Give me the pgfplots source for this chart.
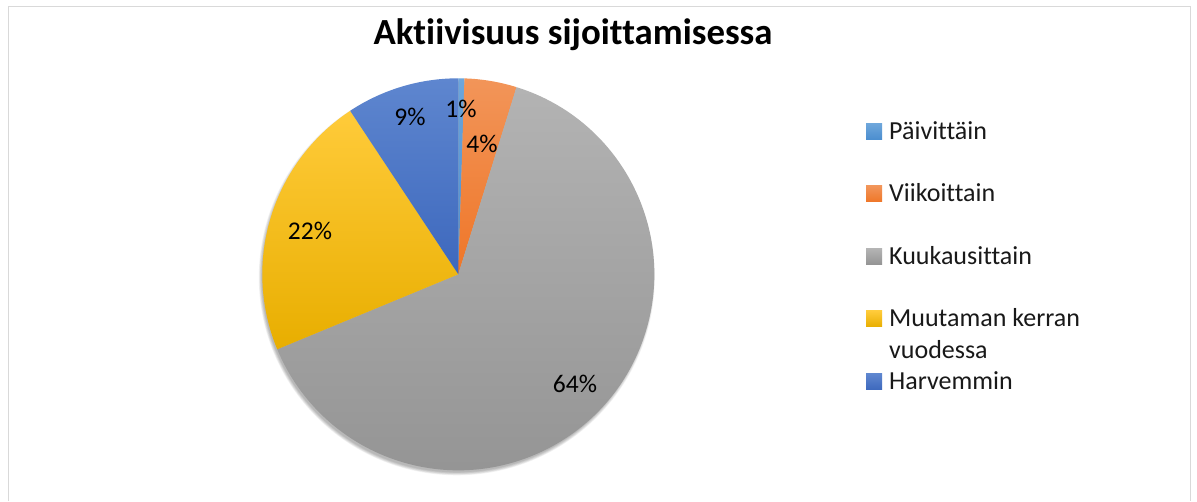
\documentclass[border=0pt]{standalone}
\usepackage{pgfplots}
\pgfplotsset{compat=1.18}
\usepackage{pgfplotstable}
\usepackage{fontspec}
\setmainfont{Carlito}[Ligatures={NoCommon,NoContextual,NoRequired}]

\definecolor{pTop}{HTML}{6DA6DB}\definecolor{pBot}{HTML}{4A8DCF}
\definecolor{vTop}{HTML}{F29559}\definecolor{vBot}{HTML}{EF7628}
\definecolor{kTop}{HTML}{B3B3B3}\definecolor{kBot}{HTML}{939393}
\definecolor{mTop}{HTML}{FFCB3A}\definecolor{mBot}{HTML}{E8AE00}
\definecolor{hTop}{HTML}{5E86CF}\definecolor{hBot}{HTML}{3D68BD}
\definecolor{frame}{HTML}{D9D9D9}

% share of answers in percent, clockwise from 12 o'clock
\pgfplotstableread{
name value
Paivittain 0.5
Viikoittain 4.3
Kuukausittain 63.95
Muutaman 21.95
Harvemmin 9.3
}\piedata

\begin{document}
\begin{tikzpicture}
\pgfmathsetmacro\aA{90}
\pgfplotstablegetelem{0}{value}\of\piedata \pgfmathsetmacro\aB{\aA-3.6*\pgfplotsretval}
\pgfplotstablegetelem{1}{value}\of\piedata \pgfmathsetmacro\aC{\aB-3.6*\pgfplotsretval}
\pgfplotstablegetelem{2}{value}\of\piedata \pgfmathsetmacro\aD{\aC-3.6*\pgfplotsretval}
\pgfplotstablegetelem{3}{value}\of\piedata \pgfmathsetmacro\aE{\aD-3.6*\pgfplotsretval}
\pgfplotstablegetelem{4}{value}\of\piedata \pgfmathsetmacro\aF{\aE-3.6*\pgfplotsretval}
\def\R{196bp}
\def\cx{458.3}\def\cy{-274.3}
\begin{axis}[
  width=1197bp, height=501bp, scale only axis,
  xmin=0, xmax=1197, ymin=-501, ymax=0,
  hide axis, clip=false,
]
\fill[white] (axis cs:0,0) rectangle (axis cs:1197,-501);
\draw[frame, line width=1.4bp] (axis cs:8.3,-501) -- (axis cs:8.3,-6.3) -- (axis cs:1190.7,-6.3) -- (axis cs:1190.7,-501);
% soft shadow
\fill[black, opacity=0.05] (axis cs:456.8,-277.3) circle[radius=195.0bp];
\fill[black, opacity=0.05] (axis cs:456.8,-277.3) circle[radius=195.6bp];
\fill[black, opacity=0.05] (axis cs:456.8,-277.3) circle[radius=196.2bp];
\fill[black, opacity=0.05] (axis cs:456.8,-277.3) circle[radius=196.8bp];
\fill[black, opacity=0.05] (axis cs:456.8,-277.3) circle[radius=197.4bp];
\fill[black, opacity=0.05] (axis cs:456.8,-277.3) circle[radius=198.0bp];
% slices
\shade[top color=pTop, bottom color=pBot] (axis cs:\cx,\cy) -- ++(\aA:\R) arc[start angle=\aA, end angle=\aB, radius=\R] -- cycle;
\shade[top color=vTop, bottom color=vBot] (axis cs:\cx,\cy) -- ++(\aB:\R) arc[start angle=\aB, end angle=\aC, radius=\R] -- cycle;
\shade[top color=kTop, bottom color=kBot] (axis cs:\cx,\cy) -- ++(\aC:\R) arc[start angle=\aC, end angle=\aD, radius=\R] -- cycle;
\shade[top color=mTop, bottom color=mBot] (axis cs:\cx,\cy) -- ++(\aD:\R) arc[start angle=\aD, end angle=\aE, radius=\R] -- cycle;
\shade[top color=hTop, bottom color=hBot] (axis cs:\cx,\cy) -- ++(\aE:\R) arc[start angle=\aE, end angle=\aF, radius=\R] -- cycle;
% data labels
\node[font=\fontsize{25.5bp}{30bp}\selectfont] at (axis cs:461,-109) {1\%};
\node[font=\fontsize{25.5bp}{30bp}\selectfont] at (axis cs:482,-144) {4\%};
\node[font=\fontsize{25.5bp}{30bp}\selectfont] at (axis cs:410,-117) {9\%};
\node[font=\fontsize{25.5bp}{30bp}\selectfont] at (axis cs:310,-231) {22\%};
\node[font=\fontsize{25.5bp}{30bp}\selectfont] at (axis cs:575,-383.5) {64\%};
% title
\node[anchor=base, font=\bfseries\fontsize{36.8bp}{44bp}\selectfont] at (axis cs:573,-45) {Aktiivisuus sijoittamisessa};
% legend
\shade[top color=pTop, bottom color=pBot] (axis cs:866,-124) rectangle (axis cs:882,-140);
\shade[top color=vTop, bottom color=vBot] (axis cs:866,-186) rectangle (axis cs:882,-202);
\shade[top color=kTop, bottom color=kBot] (axis cs:866,-249) rectangle (axis cs:882,-265);
\shade[top color=mTop, bottom color=mBot] (axis cs:866,-311) rectangle (axis cs:882,-327);
\shade[top color=hTop, bottom color=hBot] (axis cs:866,-374) rectangle (axis cs:882,-390);
\node[anchor=base west, inner sep=0pt, text=black!90, font=\fontsize{26bp}{30bp}\selectfont] at (axis cs:889,-139.3) {Päivittäin};
\node[anchor=base west, inner sep=0pt, text=black!90, font=\fontsize{26bp}{30bp}\selectfont] at (axis cs:889,-201.7) {Viikoittain};
\node[anchor=base west, inner sep=0pt, text=black!90, font=\fontsize{26bp}{30bp}\selectfont] at (axis cs:889,-265) {Kuukausittain};
\node[anchor=base west, inner sep=0pt, text=black!90, font=\fontsize{26bp}{30bp}\selectfont] at (axis cs:889,-326.7) {Muutaman kerran};
\node[anchor=base west, inner sep=0pt, text=black!90, font=\fontsize{26bp}{30bp}\selectfont] at (axis cs:889,-359) {vuodessa};
\node[anchor=base west, inner sep=0pt, text=black!90, font=\fontsize{26bp}{30bp}\selectfont] at (axis cs:889,-389.3) {Harvemmin};
\end{axis}
\end{tikzpicture}
\end{document}
